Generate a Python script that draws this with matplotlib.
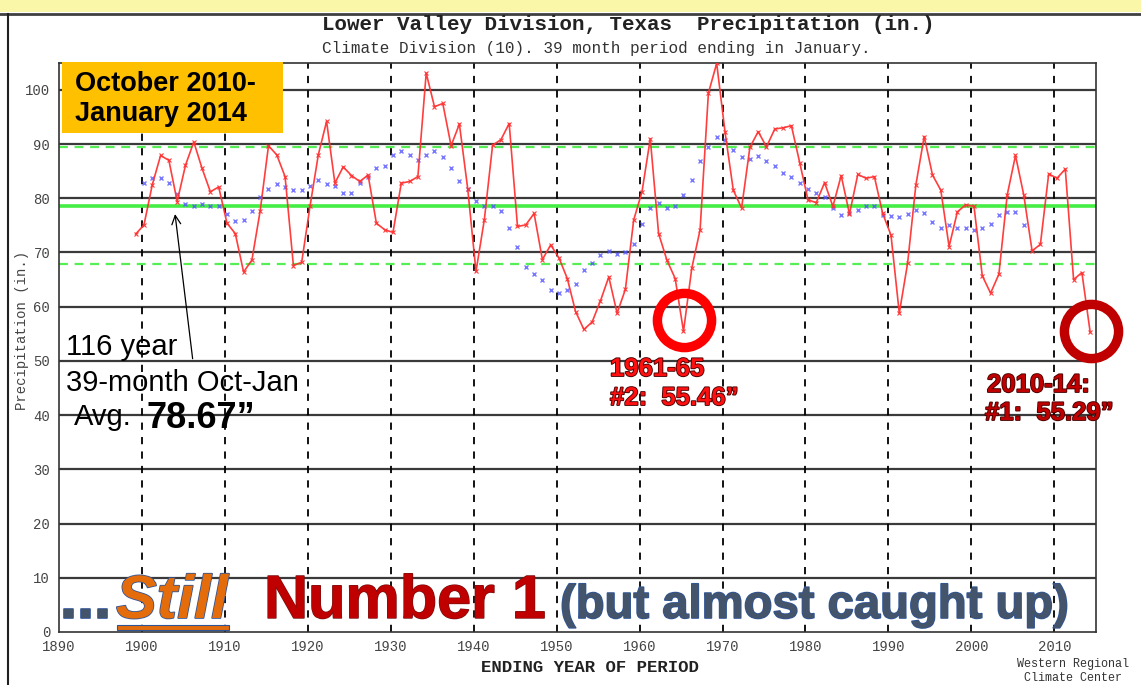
import numpy as np
import matplotlib
matplotlib.use("Agg")
import matplotlib.pyplot as plt
import matplotlib.patheffects as pe
from matplotlib.patches import Rectangle

# ---- data ----
years = np.arange(1899, 2015)
precip = [
    73.4,                                                        # 1899
    75.1, 82.5, 87.9, 87.0, 79.4, 86.1, 90.4, 85.5, 81.2, 82.1,  # 1900s
    75.4, 73.5, 66.4, 68.6, 77.7, 89.7, 88.0, 84.0, 67.6, 68.2,  # 1910s
    78.5, 88.0, 94.2, 82.8, 85.8, 84.2, 83.1, 84.3, 75.4, 74.2,  # 1920s
    73.7, 82.8, 83.1, 84.0, 103.1, 96.9, 97.5, 89.7, 93.7, 81.8,  # 1930s
    66.5, 76.0, 89.8, 90.8, 93.8, 74.8, 75.1, 77.2, 68.7, 71.4,  # 1940s
    69.0, 65.2, 59.1, 55.8, 57.2, 61.1, 65.5, 58.8, 63.2, 76.0,  # 1950s
    81.2, 91.0, 73.5, 68.6, 65.2, 55.46, 67.1, 74.2, 99.4, 104.9,  # 1960s
    92.3, 81.5, 78.2, 89.4, 92.3, 89.5, 92.8, 93.0, 93.4, 86.6,  # 1970s
    79.7, 79.2, 82.9, 78.5, 84.2, 77.1, 84.4, 83.7, 84.0, 77.2,  # 1980s
    73.2, 58.8, 68.0, 82.5, 91.4, 84.3, 81.5, 71.1, 77.5, 78.8,  # 1990s
    78.5, 65.7, 62.5, 66.0, 80.6, 87.9, 80.6, 70.3, 71.5, 84.5,  # 2000s
    83.7, 85.4, 65.0, 66.3, 55.29,                               # 2010s
]

avg_years = np.arange(1900, 2007)
avg_vals = [
    82.9, 83.7, 83.7, 82.9, 80.8, 79.0, 78.6, 79.0, 78.6, 78.6,
    77.1, 75.8, 76.0, 77.7, 80.3, 81.8, 82.6, 82.0, 81.5, 81.5,
    82.3, 83.3, 82.6, 82.2, 80.9, 81.0, 82.9, 83.9, 85.5, 86.0,
    87.9, 88.7, 87.9, 87.1, 87.9, 88.7, 87.6, 85.5, 83.1, 81.8,
    79.5, 78.5, 78.6, 77.7, 74.5, 71.0, 67.4, 66.0, 64.9, 63.1,
    62.6, 63.1, 64.1, 66.8, 68.1, 69.5, 70.3, 69.7, 70.0, 71.5,
    75.3, 78.2, 79.1, 78.2, 78.6, 80.7, 83.4, 86.8, 89.4, 91.3,
    90.8, 89.0, 87.6, 87.3, 87.8, 86.8, 86.0, 84.7, 83.9, 82.8,
    81.8, 81.0, 80.2, 78.3, 76.9, 77.2, 77.8, 78.6, 78.5, 77.0,
    76.7, 76.5, 77.1, 77.8, 77.2, 75.7, 74.6, 75.0, 74.6, 74.6,
    74.2, 74.6, 75.2, 77.0, 77.4, 77.4, 75.0,
]

mean_val = 78.67
upper_band = 89.4
lower_band = 67.9

W, H = 1141, 685


def fx(px):
    return px / W


def fy(py):
    return 1 - py / H


fig = plt.figure(figsize=(W / 100, H / 100), dpi=100)
fig.patch.set_facecolor('white')

# slide decorations
fig.patches.append(Rectangle((0, fy(12)), 1, 12 / H, transform=fig.transFigure,
                             facecolor='#FBF7A8', edgecolor='none', zorder=0))
fig.lines.append(plt.Line2D([0, 1], [fy(13.5), fy(13.5)], transform=fig.transFigure,
                            color='#404040', lw=2))
fig.lines.append(plt.Line2D([fx(7.5), fx(7.5)], [0, fy(14)], transform=fig.transFigure,
                            color='#202020', lw=1.5))

ax = fig.add_axes([fx(58.5), fy(631.9), fx(1096) - fx(58.5), fy(62.8) - fy(631.9)])
ax.set_xlim(1890, 2015)
ax.set_ylim(0, 105)

mono = 'Liberation Mono'

# grid
for v in range(10, 101, 10):
    ax.axhline(v, color='#3a3a3a', lw=1.6, zorder=1)
for yr in range(1900, 2011, 10):
    ax.axvline(yr, color='black', lw=1.3, ls=(0, (4, 4)), zorder=1)

ax.axhline(mean_val, color='#44EE44', lw=2.6, zorder=2)
ax.axhline(upper_band, color='#55EE55', lw=1.6, ls=(0, (4, 3)), zorder=2)
ax.axhline(lower_band, color='#55EE55', lw=1.6, ls=(0, (4, 3)), zorder=2)

ax.plot(avg_years + 0.3, avg_vals, ls='none', marker='x', ms=3.5, mew=1.0,
        color='#5555FF', alpha=0.8, zorder=3)
ax.plot(years + 0.3, precip, color='#FF3333', lw=1.2, marker='x', ms=3.5, mew=0.8,
        alpha=0.95, zorder=4)

ax.set_xticks(range(1890, 2011, 10))
ax.set_yticks(range(0, 101, 10))
ax.tick_params(length=0, pad=6, labelsize=10, labelcolor='#444444')
for lab in ax.get_xticklabels() + ax.get_yticklabels():
    lab.set_family(mono)
for s in ax.spines.values():
    s.set_color('#333333')
    s.set_linewidth(1.2)

# title
fig.text(fx(628), fy(25), 'Lower Valley Division, Texas  Precipitation (in.)',
         ha='center', va='center', family=mono, fontweight='bold', fontsize=15,
         color='#222222')
fig.text(fx(596), fy(48), 'Climate Division (10). 39 month period ending in January.',
         ha='center', va='center', family=mono, fontsize=11.5, color='#333333')
fig.text(fx(22), fy(330), 'Precipitation (in.)', rotation=90, ha='center', va='center',
         family=mono, fontsize=10, color='#444444')
fig.text(fx(590), fy(668), 'ENDING YEAR OF PERIOD', ha='center', va='center',
         family=mono, fontweight='bold', fontsize=12.5, color='#222222')
fig.text(fx(1073), fy(671), 'Western Regional\nClimate Center', ha='center', va='center',
         family=mono, fontsize=8.5, color='#333333', linespacing=1.3)

# orange date box
fig.patches.append(Rectangle((fx(62), fy(133)), fx(283) - fx(62), fy(62) - fy(133),
                             transform=fig.transFigure, facecolor='#FFC000',
                             edgecolor='none', zorder=5))
fig.text(fx(75), fy(91), 'October 2010-', ha='left', va='baseline', family='Liberation Sans',
         fontweight='bold', fontsize=19.5, color='black', zorder=6)
fig.text(fx(75), fy(121), 'January 2014', ha='left', va='baseline', family='Liberation Sans',
         fontweight='bold', fontsize=19.5, color='black', zorder=6)

# average annotation
fig.text(fx(66), fy(347), '116 year', ha='left', va='center', family='Liberation Sans',
         fontsize=21, color='black', zorder=6)
fig.text(fx(66), fy(383), '39-month Oct-Jan', ha='left', va='center', family='Liberation Sans',
         fontsize=21, color='black', zorder=6)
fig.text(fx(74), fy(417), 'Avg.', ha='left', va='center', family='Liberation Sans',
         fontsize=21, color='black', zorder=6)
fig.text(fx(147), fy(418), '78.67\u201d', ha='left', va='center', family='Liberation Sans',
         fontweight='bold', fontsize=26, color='black', zorder=6)
ax.annotate('', xy=(1904.0, 77.6), xytext=(1906.2, 49.9),
            arrowprops=dict(arrowstyle='->', color='black', lw=0.9,
                            mutation_scale=16), zorder=6)

# red circles around the two lowest values
i65 = list(years).index(1965)
i14 = list(years).index(2014)
ax.plot(years[i65] + 0.4, precip[i65] + 2.0, marker='o', ms=39, mfc='none',
        mec='#FF0000', mew=6.8, zorder=7, clip_on=False)
ax.plot(years[i14] + 0.4, precip[i14] + 0.3, marker='o', ms=39, mfc='none',
        mec='#C00000', mew=6.8, zorder=7, clip_on=False)

lab_fx = [pe.withStroke(linewidth=1.3, foreground='#4A0000')]
fig.text(fx(610), fy(369), '1961-65', ha='left', va='center', family='Liberation Sans',
         fontweight='bold', fontsize=18.5, color='#FF1010', path_effects=lab_fx, zorder=8)
fig.text(fx(610), fy(398), '#2:  55.46\u201d', ha='left', va='center', family='Liberation Sans',
         fontweight='bold', fontsize=18.5, color='#FF1010', path_effects=lab_fx, zorder=8)
fig.text(fx(987), fy(385), '2010-14:', ha='left', va='center', family='Liberation Sans',
         fontweight='bold', fontsize=18.5, color='#C00000', path_effects=lab_fx, zorder=8)
fig.text(fx(985), fy(413), '#1:  55.29\u201d', ha='left', va='center', family='Liberation Sans',
         fontweight='bold', fontsize=18.5, color='#C00000', path_effects=lab_fx, zorder=8)

# bottom headline
blue_edge = [pe.Stroke(linewidth=1.2, foreground='#2F5597'), pe.Normal()]
fig.text(fx(60), fy(618), '...', ha='left', va='baseline', family='Liberation Sans',
         fontweight='bold', fontsize=44, color='#44546A', path_effects=blue_edge, zorder=8)
fig.text(fx(116), fy(618), 'Still', ha='left', va='baseline', family='Liberation Sans',
         fontweight='bold', style='italic', fontsize=44, color='#E46C0A',
         path_effects=blue_edge, zorder=8)
fig.patches.append(Rectangle((fx(117), fy(630)), fx(229) - fx(117), 5 / H,
                             transform=fig.transFigure, facecolor='#E46C0A',
                             edgecolor='#2F5597', lw=0.8, zorder=8))
fig.text(fx(264), fy(618), 'Number 1', ha='left', va='baseline', family='Liberation Sans',
         fontweight='bold', fontsize=44, color='#C00000',
         path_effects=[pe.Stroke(linewidth=1.0, foreground='#7A1010'), pe.Normal()], zorder=8)
fig.text(fx(560), fy(618), '(but almost caught up)', ha='left', va='baseline',
         family='Liberation Sans', fontweight='bold', fontsize=34, color='#44546A',
         path_effects=blue_edge, zorder=8)

fig.savefig('out.png', dpi=100, facecolor='white')
